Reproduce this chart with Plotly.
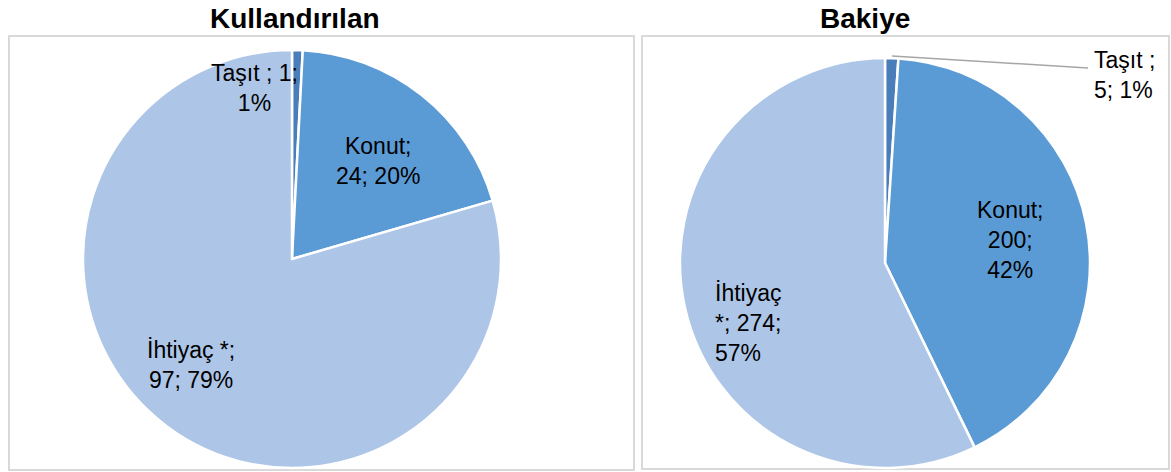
import plotly.graph_objects as go

W, H = 1171, 472

# ---- data ----
categories = ["Taşıt ", "Konut", "İhtiyaç *"]
used_values = [1, 24, 97]
used_pct = [1, 20, 79]
balance_values = [5, 200, 274]
balance_pct = [1, 42, 57]
titles = ["Kullandırılan", "Bakiye"]

colors = ["#4a7ebb", "#5b9bd5", "#adc6e7"]
FONT = "Liberation Sans, Arial, sans-serif"


def px(x):
    return x / W


def py(y):
    return 1 - y / H


def domain(cx, cy, r):
    return dict(x=[px(cx - r), px(cx + r)], y=[py(cy + r), py(cy - r)])


fig = go.Figure()

pies = [
    (used_values, domain(292, 259, 209)),
    (balance_values, domain(885, 263, 205)),
]
for vals, dom in pies:
    fig.add_trace(go.Pie(
        labels=categories, values=vals, sort=False, direction="clockwise",
        rotation=0, textinfo="none", hoverinfo="label+value+percent",
        marker=dict(colors=colors, line=dict(color="white", width=2.5)),
        domain=dom, showlegend=False,
    ))

# label layouts (formatting only); text content comes from the arrays above
left_fmt = ["{l}; {v};<br>{p}%", "{l};<br>{v}; {p}%", "{l};<br>{v}; {p}%"]
left_pos = [(254, 88, "center"), (378, 161, "center"), (191, 365, "center")]
right_fmt = ["{l};<br>{v}; {p}%", "{l};<br>{v};<br>{p}%", "{l0}<br>{l1}; {v};<br>{p}%"]
right_pos = [(1092, 75, "left"), (1010, 240, "center"), (713, 323, "left")]

annotations = []


def add_labels(vals, pcts, fmts, poss):
    for lab, v, p, f, (x, y, anc) in zip(categories, vals, pcts, fmts, poss):
        parts = lab.split(" ")
        txt = f.format(l=lab, v=v, p=p, l0=parts[0], l1=" ".join(parts[1:]))
        annotations.append(dict(
            x=px(x), y=py(y), xref="paper", yref="paper", text=txt,
            showarrow=False, xanchor=anc, yanchor="middle", align=anc,
            font=dict(family=FONT, size=23, color="#000000"),
        ))


add_labels(used_values, used_pct, left_fmt, left_pos)
add_labels(balance_values, balance_pct, right_fmt, right_pos)

for t, cx in zip(titles, [295, 865]):
    annotations.append(dict(
        x=px(cx), y=py(18), xref="paper", yref="paper", text="<b>%s</b>" % t,
        showarrow=False, xanchor="center", yanchor="middle",
        font=dict(family=FONT, size=28, color="#000000"),
    ))

shapes = [
    dict(type="rect", xref="paper", yref="paper",
         x0=px(9), x1=px(634), y0=py(470), y1=py(36),
         line=dict(color="#d9d9d9", width=2), layer="below"),
    dict(type="rect", xref="paper", yref="paper",
         x0=px(642), x1=px(1169), y0=py(469), y1=py(36),
         line=dict(color="#d9d9d9", width=2), layer="below"),
    dict(type="line", xref="paper", yref="paper",
         x0=px(892), y0=py(56), x1=px(1088), y1=py(68),
         line=dict(color="#a6a6a6", width=1.5)),
]

fig.update_layout(
    width=W, height=H, margin=dict(l=0, r=0, t=0, b=0),
    paper_bgcolor="white", plot_bgcolor="white",
    annotations=annotations, shapes=shapes,
    font=dict(family=FONT),
)

fig.write_html(
    "out.html",
    config={"displayModeBar": False},
    post_script="document.body.style.margin='0';document.body.style.overflow='hidden';",
)
